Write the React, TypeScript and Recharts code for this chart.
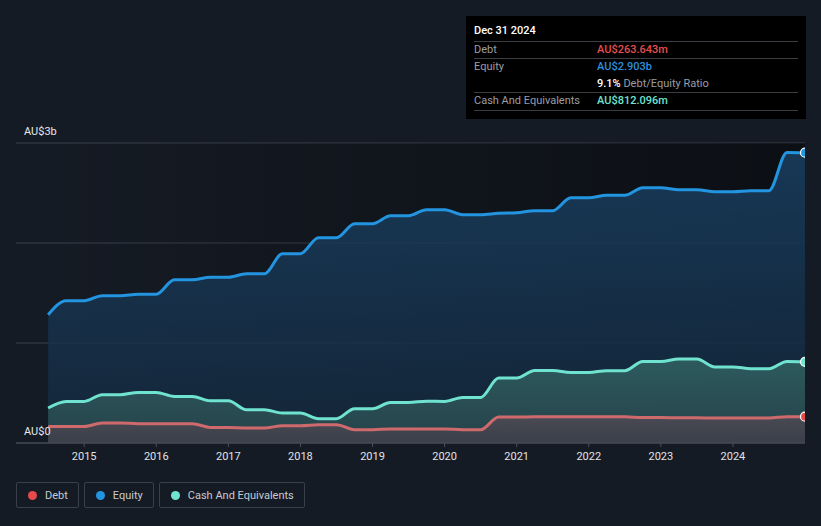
import React from 'react';
import { AreaChart, Area, XAxis, YAxis, CartesianGrid, ReferenceArea } from 'recharts';

const quarters = [
  2014.5, 2014.75, 2015.0, 2015.25, 2015.5, 2015.75, 2016.0, 2016.25, 2016.5, 2016.75,
  2017.0, 2017.25, 2017.5, 2017.75, 2018.0, 2018.25, 2018.5, 2018.75, 2019.0, 2019.25,
  2019.5, 2019.75, 2020.0, 2020.25, 2020.5, 2020.75, 2021.0, 2021.25, 2021.5, 2021.75,
  2022.0, 2022.25, 2022.5, 2022.75, 2023.0, 2023.25, 2023.5, 2023.75, 2024.0, 2024.25,
  2024.5, 2024.75, 2025.0,
];

const debtValues = [
  0.166, 0.166, 0.166, 0.2, 0.2, 0.193, 0.193, 0.193, 0.193, 0.156,
  0.156, 0.15, 0.15, 0.173, 0.173, 0.183, 0.183, 0.133, 0.133, 0.14,
  0.14, 0.14, 0.14, 0.133, 0.133, 0.26, 0.26, 0.262, 0.262, 0.262,
  0.262, 0.262, 0.262, 0.255, 0.255, 0.252, 0.252, 0.25, 0.25, 0.25,
  0.25, 0.2636, 0.2636,
];

const equityValues = [
  1.283, 1.423, 1.423, 1.473, 1.473, 1.488, 1.488, 1.633, 1.633, 1.658,
  1.658, 1.693, 1.693, 1.893, 1.893, 2.053, 2.053, 2.193, 2.193, 2.273,
  2.273, 2.333, 2.333, 2.283, 2.283, 2.298, 2.303, 2.323, 2.323, 2.453,
  2.453, 2.478, 2.478, 2.553, 2.553, 2.533, 2.533, 2.513, 2.513, 2.523,
  2.523, 2.906, 2.903,
];

const cashValues = [
  0.35, 0.416, 0.416, 0.483, 0.483, 0.506, 0.506, 0.466, 0.466, 0.423,
  0.423, 0.333, 0.333, 0.3, 0.3, 0.243, 0.243, 0.343, 0.343, 0.406,
  0.406, 0.418, 0.416, 0.456, 0.456, 0.65, 0.65, 0.726, 0.726, 0.706,
  0.706, 0.723, 0.723, 0.816, 0.816, 0.84, 0.84, 0.76, 0.76, 0.743,
  0.743, 0.816, 0.812,
];

const yearTicks = [2015, 2016, 2017, 2018, 2019, 2020, 2021, 2022, 2023, 2024];
const valueTicks = [0, 1, 2, 3];
const valueLabels: Record<number, string> = { 0: 'AU$0', 3: 'AU$3b' };

const legendItems = [
  { name: 'Debt', color: '#e64a4a' },
  { name: 'Equity', color: '#2394df' },
  { name: 'Cash And Equivalents', color: '#6fe3cf' },
];

const tooltipTitle = 'Dec 31 2024';
const tooltipDebt = 'AU$263.643m';
const tooltipEquity = 'AU$2.903b';
const tooltipRatio = '9.1%';
const tooltipCash = 'AU$812.096m';

const data = quarters.map((t, i) => ({
  t,
  debt: debtValues[i],
  equity: equityValues[i],
  cash: cashValues[i],
}));

const BG = '#151b24';
const FONT = 'Roboto, "Noto Sans", sans-serif';

const makeEndDot = (color: string) => (props: any) => {
  const { cx, cy, index } = props;
  if (index !== data.length - 1) return <g key={`d${index}`} />;
  return <circle key={`d${index}`} cx={cx} cy={cy} r={4.5} fill={color} stroke="#ffffff" strokeWidth={1.2} />;
};

const renderYTick = (props: any) => {
  const { y, payload } = props;
  const label = valueLabels[payload.value];
  if (!label) return <g key={`yt${payload.value}`} />;
  return (
    <text key={`yt${payload.value}`} x={24} y={y - 12} dy="0.35em" textAnchor="start" fill="#e6e8eb" fontSize={11} fontFamily={FONT}>
      {label}
    </text>
  );
};

const Sep = ({ top }: { top: number }) => (
  <div style={{ position: 'absolute', left: 8, top, width: 324, height: 1, background: '#3a3d42' }} />
);

const Row = ({ top, label, value, color }: { top: number; label: string; value: string; color: string }) => (
  <>
    <div style={{ position: 'absolute', left: 8, top, height: 17, lineHeight: '17px', fontSize: 11, color: '#9a9ea4' }}>{label}</div>
    <div style={{ position: 'absolute', left: 131, top, height: 17, lineHeight: '17px', fontSize: 11, color, fontWeight: 500 }}>{value}</div>
  </>
);

export default function App() {
  return (
    <div style={{ position: 'relative', width: 821, height: 526, background: BG, fontFamily: FONT, overflow: 'hidden' }}>
      <style>{'body{margin:0;background:' + BG + ';}'}</style>
      <AreaChart width={821} height={526} data={data} margin={{ top: 143, right: 16, bottom: 53, left: 0 }}>
        <defs>
          <linearGradient id="shade" x1="0" y1="0" x2="1" y2="0">
            <stop offset="0%" stopColor="#000000" stopOpacity={0} />
            <stop offset="100%" stopColor="#000000" stopOpacity={0.45} />
          </linearGradient>
          <linearGradient id="eqFill" x1="0" y1="0" x2="0" y2="1">
            <stop offset="0%" stopColor="#1a4266" stopOpacity={0.8} />
            <stop offset="100%" stopColor="#142a40" stopOpacity={0.75} />
          </linearGradient>
          <linearGradient id="cashFill" x1="0" y1="0" x2="0" y2="1">
            <stop offset="0%" stopColor="#2e5d5f" stopOpacity={0.95} />
            <stop offset="100%" stopColor="#27454c" stopOpacity={0.9} />
          </linearGradient>
          <linearGradient id="debtFill" x1="0" y1="0" x2="0" y2="1">
            <stop offset="0%" stopColor="#4b4a53" stopOpacity={0.95} />
            <stop offset="100%" stopColor="#3c3f49" stopOpacity={0.95} />
          </linearGradient>
        </defs>
        <CartesianGrid vertical={false} stroke="#3a404a" strokeWidth={1} />
        <ReferenceArea x1={2014.5} x2={2025} y1={0} y2={3} fill="url(#shade)" fillOpacity={1} stroke="none" ifOverflow="hidden" />
        <XAxis
          dataKey="t"
          type="number"
          domain={[2014.054, 2025]}
          allowDataOverflow
          ticks={yearTicks}
          tickFormatter={(v: number) => String(v)}
          height={30}
          axisLine={{ stroke: '#4a505a' }}
          tickLine={{ stroke: '#4a505a' }}
          tickSize={4}
          tickMargin={5}
          tick={{ fill: '#e0e3e7', fontSize: 11, fontFamily: FONT }}
        />
        <YAxis
          type="number"
          domain={[0, 3]}
          ticks={valueTicks}
          interval={0}
          width={16}
          axisLine={false}
          tickLine={false}
          tick={renderYTick}
        />
        <Area
          type="monotone"
          dataKey="equity"
          stroke="#2394df"
          strokeWidth={3}
          fill="url(#eqFill)"
          fillOpacity={1}
          isAnimationActive={false}
          dot={makeEndDot('#2394df')}
          activeDot={false}
        />
        <Area
          type="monotone"
          dataKey="cash"
          stroke="#6fe3cf"
          strokeWidth={3}
          fill="url(#cashFill)"
          fillOpacity={1}
          isAnimationActive={false}
          dot={makeEndDot('#6fe3cf')}
          activeDot={false}
        />
        <Area
          type="monotone"
          dataKey="debt"
          stroke="#cf6a6c"
          strokeWidth={3}
          fill="url(#debtFill)"
          fillOpacity={1}
          isAnimationActive={false}
          dot={makeEndDot('#e64a4a')}
          activeDot={false}
        />
      </AreaChart>

      <div style={{ position: 'absolute', left: 16, top: 482, display: 'flex', gap: 5 }}>
        {legendItems.map((it) => (
          <div
            key={it.name}
            style={{
              height: 24,
              border: '1px solid #3a404a',
              borderRadius: 2,
              display: 'flex',
              alignItems: 'center',
              padding: '0 10px 0 11px',
              fontSize: 11,
              color: '#c7cbd1',
            }}
          >
            <span style={{ width: 9, height: 9, borderRadius: '50%', background: it.color, display: 'inline-block', marginRight: 8 }} />
            {it.name}
          </div>
        ))}
      </div>

      <div style={{ position: 'absolute', left: 466, top: 16, width: 340, height: 103, background: '#000000', fontFamily: FONT }}>
        <div style={{ position: 'absolute', left: 8, top: 8, lineHeight: '14px', fontSize: 11, color: '#ffffff', fontWeight: 500 }}>{tooltipTitle}</div>
        <Sep top={25} />
        <Row top={25} label="Debt" value={tooltipDebt} color="#e54e4e" />
        <Sep top={42} />
        <Row top={42} label="Equity" value={tooltipEquity} color="#2b8fdd" />
        <div style={{ position: 'absolute', left: 131, top: 59, height: 17, lineHeight: '17px', fontSize: 11, color: '#9a9ea4' }}>
          <span style={{ color: '#ffffff', fontWeight: 500 }}>{tooltipRatio}</span> Debt/Equity Ratio
        </div>
        <Sep top={76} />
        <Row top={76} label="Cash And Equivalents" value={tooltipCash} color="#6fe3cf" />
        <Sep top={94} />
      </div>
    </div>
  );
}
